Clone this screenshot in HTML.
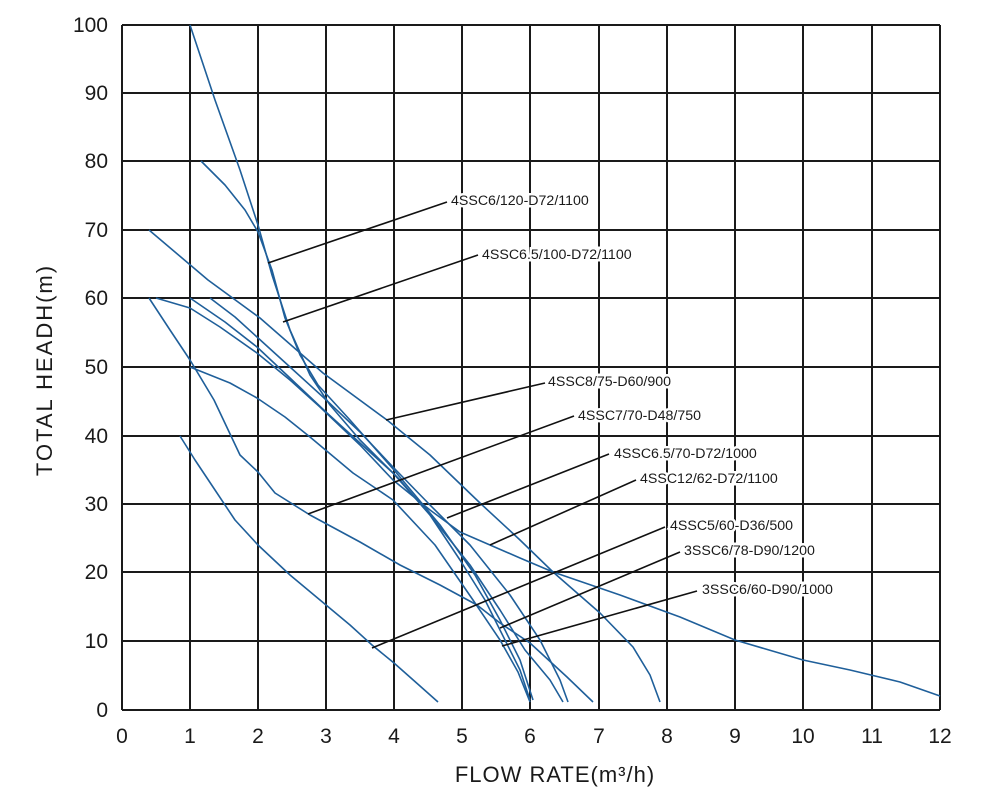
<!DOCTYPE html>
<html><head><meta charset="utf-8"><style>
html,body{margin:0;padding:0;background:#fff;}
svg{display:block;font-family:"Liberation Sans","DejaVu Sans",sans-serif;}
</style></head><body>
<svg width="1000" height="806" viewBox="0 0 1000 806" xmlns="http://www.w3.org/2000/svg">
<rect width="1000" height="806" fill="#fff"/>
<g stroke="#1a1a1a" stroke-width="2" fill="none">
<path d="M122 25V710M190 25V710M258 25V710M326 25V710M394 25V710M462 25V710M530 25V710M599 25V710M667 25V710M735 25V710M803 25V710M872 25V710M940 25V710"/>
<path d="M122 25H940M122 93H940M122 161H940M122 230H940M122 298H940M122 367H940M122 436H940M122 504H940M122 572H940M122 641H940M122 710H940"/>
</g>
<g fill="#1a1a1a" font-size="21" text-anchor="end">
<text x="108" y="32">100</text><text x="108" y="100">90</text><text x="108" y="168">80</text><text x="108" y="237">70</text><text x="108" y="305">60</text><text x="108" y="374">50</text><text x="108" y="443">40</text><text x="108" y="511">30</text><text x="108" y="579">20</text><text x="108" y="648">10</text><text x="108" y="717">0</text>
</g>
<g fill="#1a1a1a" font-size="21" text-anchor="middle">
<text x="122" y="743">0</text><text x="190" y="743">1</text><text x="258" y="743">2</text><text x="326" y="743">3</text><text x="394" y="743">4</text><text x="462" y="743">5</text><text x="530" y="743">6</text><text x="599" y="743">7</text><text x="667" y="743">8</text><text x="735" y="743">9</text><text x="803" y="743">10</text><text x="872" y="743">11</text><text x="940" y="743">12</text>
<text x="555" y="782" font-size="22" letter-spacing="1">FLOW RATE(m³/h)</text>
<text transform="translate(52,370) rotate(-90)" font-size="22" letter-spacing="2">TOTAL HEADH(m)</text>
</g>
<g stroke="#1f5f9a" stroke-width="1.6" fill="none" stroke-linejoin="round">
<polyline points="190,25 215,100 240,170 258,225 272,275 290,330 310,375 330,405 360,440 400,480 430,515 460,560 485,600 505,640 520,670 530,700"/>
<polyline points="201,161 225,185 245,210 258,232 272,270 285,318 300,355 318,385 350,420 394,470 440,525 475,575 500,620 520,660 533,700"/>
<polyline points="149,230 208,280 260,318 323,373 387,420 430,455 480,503 520,540 553,572 600,613 633,647 650,675 660,702"/>
<polyline points="149,298 170,330 190,360 214,400 240,455 258,472 275,493 310,515 360,542 400,565 440,585 477,605 500,623 530,643 567,677 593,702"/>
<polyline points="156,298 190,308 220,327 257,353 290,380 320,407 360,445 393,480 430,510 460,532 490,545 520,558 553,572 620,595 680,617 735,640 803,660 850,670 900,682 940,696"/>
<polyline points="190,298 225,322 257,347 290,378 327,413 360,443 393,473 430,515 470,565 500,610 525,650 550,680 563,702"/>
<polyline points="210,298 235,317 257,337 290,367 323,397 360,432 393,467 430,505 470,545 510,595 540,640 560,680 568,702"/>
<polyline points="190,367 230,383 257,398 285,417 310,437 353,473 393,500 435,545 473,600 500,640 518,672 530,702"/>
<polyline points="180,436 195,460 215,490 235,520 258,545 290,575 320,600 350,625 372,645 394,663 420,686 438,702"/>
</g>
<g stroke="#111" stroke-width="1.6">
<line x1="268" y1="263" x2="447" y2="202"/>
<line x1="283" y1="322" x2="478" y2="255"/>
<line x1="386" y1="420" x2="545" y2="383"/>
<line x1="308" y1="514" x2="574" y2="416"/>
<line x1="447" y1="518" x2="609" y2="454"/>
<line x1="490" y1="545" x2="636" y2="480"/>
<line x1="372" y1="648" x2="665" y2="527"/>
<line x1="500" y1="628" x2="680" y2="552"/>
<line x1="502" y1="646" x2="697" y2="591"/>
</g>
<g font-size="14.2" fill="#1a1a1a" stroke="#fff" stroke-width="5" paint-order="stroke">
<text x="451" y="205">4SSC6/120-D72/1100</text>
<text x="482" y="259">4SSC6.5/100-D72/1100</text>
<text x="548" y="386">4SSC8/75-D60/900</text>
<text x="578" y="420">4SSC7/70-D48/750</text>
<text x="614" y="458">4SSC6.5/70-D72/1000</text>
<text x="640" y="483">4SSC12/62-D72/1100</text>
<text x="670" y="530">4SSC5/60-D36/500</text>
<text x="684" y="555">3SSC6/78-D90/1200</text>
<text x="702" y="594">3SSC6/60-D90/1000</text>
</g>
</svg>
</body></html>
